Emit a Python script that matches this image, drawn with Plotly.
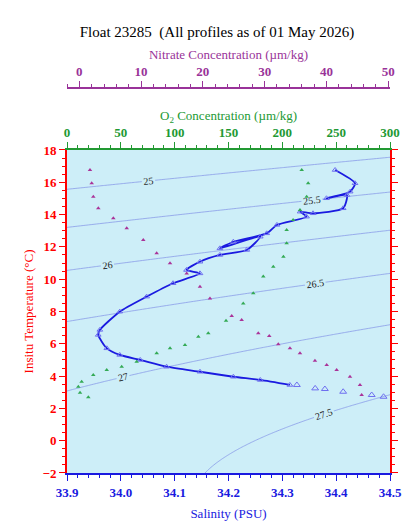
import numpy as np
import plotly.graph_objects as go

# Salinity / temperature profile
sal_line = [34.398,34.435,34.426,34.382,34.420,34.413,34.357,34.333,34.345,34.290,34.271,34.209,34.184,34.259,34.234,34.184,34.147,34.122,34.147,34.097,34.048,33.998,33.961,33.958,33.974,33.998,34.036,34.085,34.147,34.209,34.259,34.314]
temp_line = [16.76,15.94,15.42,15.01,15.21,14.39,14.08,14.18,13.87,13.36,12.84,12.32,11.91,12.63,11.81,11.50,11.08,10.57,10.36,9.75,8.92,7.99,6.86,6.55,5.72,5.31,5.00,4.58,4.27,3.96,3.76,3.45]
sal_deep = [34.327,34.361,34.379,34.413,34.466,34.488]
temp_deep = [3.45,3.24,3.20,3.03,2.83,2.72]

# Nitrate vs temperature
nitrate = [1.72,2.0,2.26,3.07,5.5,7.67,10.35,12.52,14.68,17.38,19.53,21.15,24.67,26.28,28.97,30.75,32.21,34.1,35.72,38.15,40.05,41.66,43.82,45.44,45.71]
temp_no3 = [16.76,15.94,15.11,14.39,13.77,13.15,12.43,11.6,10.98,10.36,9.53,8.81,7.72,7.47,6.65,6.48,5.97,5.72,5.41,4.95,4.68,4.38,3.96,3.45,2.83]

# Oxygen vs temperature
oxygen = [218,224,222.6,216.4,210,204,204,201,191.6,182.3,173,163.7,147.7,131.2,122,109.6,95.7,83.3,64.7,50.8,36.9,24.4,13.6,10.5,12.1,19.8]
temp_o2 = [16.76,15.94,15.11,14.28,13.66,13.05,12.22,11.39,10.77,10.16,9.13,8.5,7.43,6.65,6.44,5.93,5.72,5.41,4.89,4.58,4.38,4.07,3.65,3.34,2.97,2.69]

def sigma0(S, T):
    rw = (999.842594 + 6.793952e-2*T - 9.095290e-3*T**2 + 1.001685e-4*T**3
          - 1.120083e-6*T**4 + 6.536332e-9*T**5)
    r = (rw + S*(0.824493 - 4.0899e-3*T + 7.6438e-5*T**2 - 8.2467e-7*T**3 + 5.3875e-9*T**4)
         + S**1.5*(-5.72466e-3 + 1.0227e-4*T - 1.6546e-6*T**2) + 4.8314e-4*S**2)
    return r - 1000

Sg = np.linspace(33.9, 34.5, 121)
Tg = np.linspace(-2, 18, 201)
SS, TT = np.meshgrid(Sg, Tg)
Z = sigma0(SS, TT)

FONT = "Liberation Serif"
fig = go.Figure()
fig.add_trace(go.Contour(x=Sg, y=Tg, z=Z, contours=dict(coloring="none", start=25, end=27.5, size=0.5,
                         showlabels=True, labelfont=dict(size=10, color="#222", family=FONT)),
                         line=dict(color="#8a9ce8", width=0.8), showscale=False, hoverinfo="skip"))
fig.add_trace(go.Scatter(x=nitrate, y=temp_no3, xaxis="x3", mode="markers",
                         marker=dict(symbol="triangle-up", size=4, color="#aa3399")))
fig.add_trace(go.Scatter(x=oxygen, y=temp_o2, xaxis="x2", mode="markers",
                         marker=dict(symbol="triangle-up", size=4, color="#33aa55")))
fig.add_trace(go.Scatter(x=sal_line, y=temp_line, mode="lines+markers",
                         line=dict(color="#1a1ae0", width=1.8, shape="spline", smoothing=0.6),
                         marker=dict(symbol="triangle-up-open", size=5, color="#6f6ff0")))
fig.add_trace(go.Scatter(x=sal_deep, y=temp_deep, mode="markers",
                         marker=dict(symbol="triangle-up-open", size=6, color="#6f6ff0")))

def tf(c, bold=False):
    d = dict(color=c, size=13, family=FONT)
    if bold:
        d["weight"] = "bold"
    return d

ax = dict(showgrid=False, zeroline=False, ticks="outside", linewidth=2, ticklen=6, automargin=False)
fig.update_layout(
    width=418, height=530, showlegend=False,
    margin=dict(l=59, r=36, t=80, b=65),
    paper_bgcolor="white", plot_bgcolor="#cdeef8",
    font=dict(family=FONT),
    title=dict(text="Float 23285  (All profiles as of 01 May 2026)", x=0.5, y=0.965,
               xanchor="center", font=dict(size=15, color="black", family=FONT)),
    xaxis=dict(ax, range=[33.9, 34.5], dtick=0.1, tickformat=".1f", linecolor="#1a1ae0",
               tickcolor="#1a1ae0", minor=dict(ticks="outside", ticklen=3, tickcolor="#1a1ae0", dtick=0.02),
               tickfont=tf("#1a1ae0", True),
               title=dict(text="Salinity (PSU)", font=tf("#1a1ae0"), standoff=10)),
    yaxis=dict(ax, range=[-2, 18], dtick=2, domain=[0, 0.839], linecolor="red", tickcolor="red",
               mirror="ticks", minor=dict(ticks="outside", ticklen=3, tickcolor="red", dtick=0.5),
               tickfont=tf("red", True),
               title=dict(text="Insitu Temperature (°C)", font=tf("red"), standoff=6)),
    xaxis2=dict(ax, range=[0, 300], dtick=50, overlaying="x", side="top", anchor="y",
                linecolor="#229933", tickcolor="#229933",
                minor=dict(ticks="outside", ticklen=3, tickcolor="#229933", dtick=10),
                tickfont=tf("#229933", True),
                title=dict(text="O<sub>2</sub> Concentration (µm/kg)", font=tf("#229933"), standoff=0)),
    xaxis3=dict(ax, range=[-2, 50.3], dtick=10, overlaying="x", side="top", anchor="free", position=1,
                linecolor="#993399", tickcolor="#993399",
                minor=dict(ticks="outside", ticklen=3, tickcolor="#993399", dtick=2),
                tickfont=tf("#993399", True),
                title=dict(text="Nitrate Concentration (µm/kg)", font=tf("#993399"), standoff=0)),
)
fig.write_html("out.html")
